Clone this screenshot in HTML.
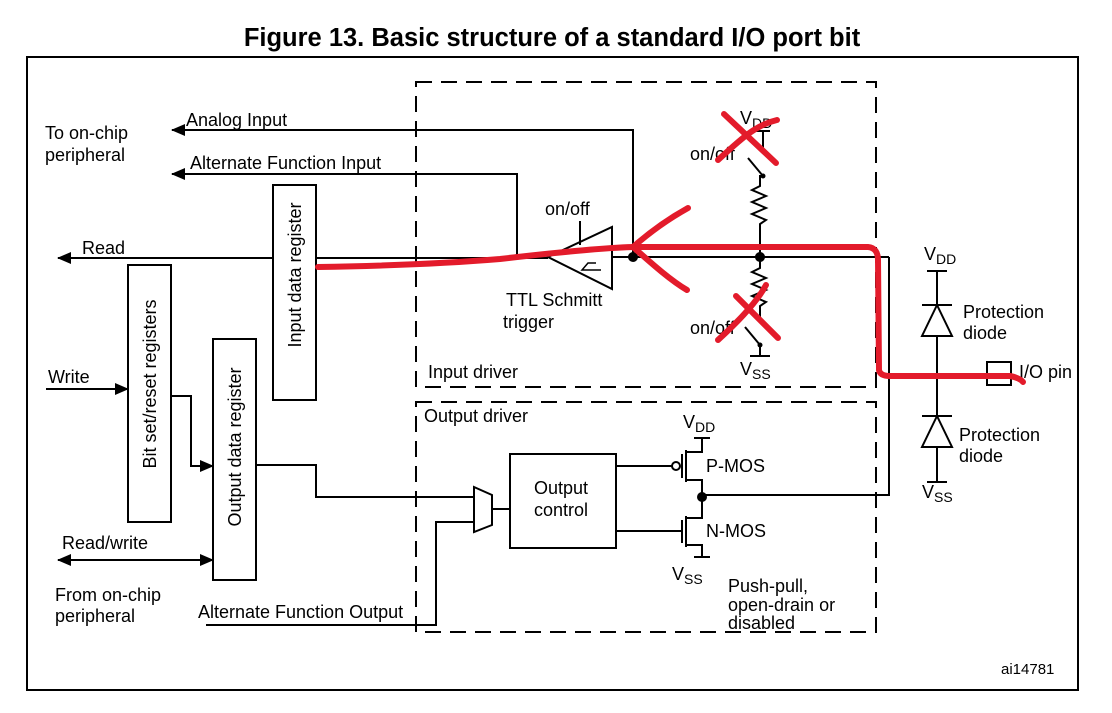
<!DOCTYPE html>
<html><head><meta charset="utf-8"><style>
html,body{margin:0;padding:0;background:#fff;}
svg{display:block;}
text{font-family:"Liberation Sans",Arial,sans-serif;font-size:18px;fill:#000;}
</style></head><body>
<svg width="1112" height="713" viewBox="0 0 1112 713" xmlns="http://www.w3.org/2000/svg">
<defs>
<marker id="ah" markerWidth="14" markerHeight="12" refX="13" refY="6" orient="auto-start-reverse" markerUnits="userSpaceOnUse"><path d="M0,0 L14,6 L0,12 Z" fill="#000"/></marker>
</defs>
<text x="552" y="46" text-anchor="middle" style="font-size:25.5px;font-weight:bold">Figure 13. Basic structure of a standard I/O port bit</text>
<rect x="27" y="57" width="1051" height="633" fill="none" stroke="#000" stroke-width="2"/>

<g fill="none" stroke="#000" stroke-width="2" stroke-dasharray="16,9">
<rect x="416" y="82" width="460" height="305"/>
<rect x="416" y="402" width="460" height="230"/>
</g>

<g fill="none" stroke="#000" stroke-width="2">
<rect x="273" y="185" width="43" height="215"/>
<rect x="128" y="265" width="43" height="257"/>
<rect x="213" y="339" width="43" height="241"/>
<line x1="273" y1="258" x2="58" y2="258" marker-end="url(#ah)"/>
<line x1="316" y1="258" x2="548" y2="258"/>
<polyline points="633,257 633,130 172,130" marker-end="url(#ah)"/>
<polyline points="517,257 517,174 172,174" marker-end="url(#ah)"/>
<line x1="46" y1="389" x2="128" y2="389" marker-end="url(#ah)"/>
<polyline points="171,396 191,396 191,466 213,466" marker-end="url(#ah)"/>
<line x1="58" y1="560" x2="213" y2="560" marker-end="url(#ah)" marker-start="url(#ah)"/>
<polygon points="548,257 612,227 612,289"/>
<line x1="580" y1="221" x2="580" y2="245"/>
<polyline points="596,263 588,263 582,270 601,270" stroke-width="1.5"/>
<line x1="612" y1="257" x2="889" y2="257"/>
<polyline points="889,257 889,495 702,495"/>
<line x1="750" y1="131" x2="770" y2="131"/>
<line x1="763" y1="131" x2="763" y2="154"/>
<line x1="748" y1="158" x2="763" y2="176"/>
<polyline points="763,176 760,176 760,186 752,190 766,196 752,202 766,208 752,214 766,220 760,224 760,257"/>
<polyline points="760,257 760,268 752,272 766,278 752,284 766,290 752,296 766,302 760,306 760,318"/>
<line x1="745" y1="327" x2="760" y2="345"/>
<line x1="760" y1="345" x2="760" y2="356"/>
<line x1="750" y1="356" x2="770" y2="356"/>
<line x1="927" y1="271" x2="947" y2="271"/>
<line x1="937" y1="271" x2="937" y2="482"/>
<line x1="922" y1="305" x2="952" y2="305"/>
<polygon points="937,305 922,336 952,336" fill="#fff"/>
<line x1="922" y1="416" x2="952" y2="416"/>
<polygon points="937,416 922,447 952,447" fill="#fff"/>
<line x1="927" y1="482" x2="947" y2="482"/>
<line x1="889" y1="375" x2="987" y2="375"/>
<rect x="987" y="362" width="24" height="23"/>
<polyline points="256,465 316,465 316,497 474,497"/>
<polyline points="206,625 436,625 436,522 474,522"/>
<polygon points="474,487 492,495 492,525 474,532"/>
<line x1="492" y1="509" x2="510" y2="509"/>
<rect x="510" y="454" width="106" height="94"/>
<line x1="616" y1="466" x2="672" y2="466"/>
<circle cx="676" cy="466" r="4"/>
<line x1="682" y1="454" x2="682" y2="478"/>
<line x1="686" y1="450" x2="686" y2="482"/>
<polyline points="686,452 702,452 702,438"/>
<line x1="694" y1="438" x2="710" y2="438"/>
<polyline points="686,480 702,480 702,518 686,518"/>
<line x1="616" y1="531" x2="682" y2="531"/>
<line x1="682" y1="520" x2="682" y2="543"/>
<line x1="686" y1="516" x2="686" y2="547"/>
<polyline points="686,545 702,545 702,557"/>
<line x1="694" y1="557" x2="710" y2="557"/>
</g>
<g fill="#000">
<circle cx="517" cy="257" r="3"/>
<circle cx="633" cy="257" r="5"/>
<circle cx="760" cy="257" r="5"/>
<circle cx="702" cy="497" r="5"/>
<circle cx="763" cy="176" r="2.5"/>
<circle cx="760" cy="345" r="2.5"/>
</g>

<text x="45" y="139">To on-chip</text>
<text x="45" y="161">peripheral</text>
<text x="186" y="126">Analog Input</text>
<text x="190" y="169">Alternate Function Input</text>
<text x="82" y="254">Read</text>
<text x="48" y="383">Write</text>
<text x="62" y="549">Read/write</text>
<text x="55" y="601">From on-chip</text>
<text x="55" y="622">peripheral</text>
<text x="198" y="618">Alternate Function Output</text>
<text transform="translate(301,275) rotate(-90)" text-anchor="middle">Input data register</text>
<text transform="translate(156,384) rotate(-90)" text-anchor="middle">Bit set/reset registers</text>
<text transform="translate(241,447) rotate(-90)" text-anchor="middle">Output data register</text>
<text x="545" y="215">on/off</text>
<text x="506" y="306">TTL Schmitt</text>
<text x="503" y="328">trigger</text>
<text x="428" y="378">Input driver</text>
<text x="424" y="422">Output driver</text>
<text x="740" y="124">V<tspan dy="4" style="font-size:14px">DD</tspan></text>
<text x="690" y="160">on/off</text>
<text x="690" y="334">on/off</text>
<text x="740" y="375">V<tspan dy="4" style="font-size:14px">SS</tspan></text>
<text x="924" y="260">V<tspan dy="4" style="font-size:14px">DD</tspan></text>
<text x="963" y="318">Protection</text>
<text x="963" y="339">diode</text>
<text x="1019" y="378">I/O pin</text>
<text x="959" y="441">Protection</text>
<text x="959" y="462">diode</text>
<text x="922" y="498">V<tspan dy="4" style="font-size:14px">SS</tspan></text>
<text x="534" y="494">Output</text>
<text x="534" y="516">control</text>
<text x="683" y="428">V<tspan dy="4" style="font-size:14px">DD</tspan></text>
<text x="706" y="472">P-MOS</text>
<text x="706" y="537">N-MOS</text>
<text x="672" y="580">V<tspan dy="4" style="font-size:14px">SS</tspan></text>
<text x="728" y="592">Push-pull,</text>
<text x="728" y="611">open-drain or</text>
<text x="728" y="629">disabled</text>
<text x="1001" y="674" style="font-size:15px">ai14781</text>

<g fill="none" stroke="#e31b2b" stroke-width="6" stroke-linecap="round" stroke-linejoin="round">
<path d="M318,267 C380,266 440,264 500,259 C560,252 600,248 633,247 L868,247 Q878,248 878,260 L879,370 Q880,376 890,376 L1010,376 Q1020,378 1023,382"/>
<path d="M633,247 C650,232 670,218 688,208"/>
<path d="M633,247 C650,262 670,280 687,290"/>
<path d="M724,114 L776,163"/>
<path d="M718,160 C740,140 755,125 777,120"/>
<path d="M736,296 L778,338"/>
<path d="M718,340 C740,320 758,300 766,285"/>
</g>
</svg>
</body></html>
